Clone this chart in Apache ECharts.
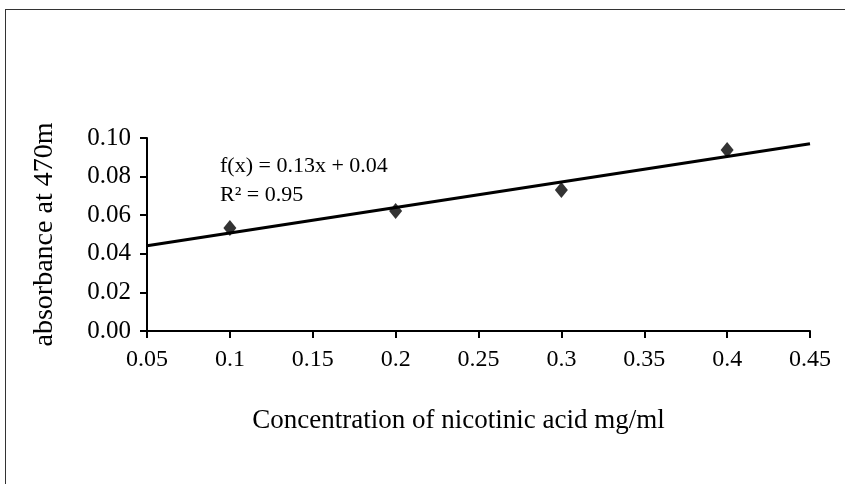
<!DOCTYPE html>
<html><head><meta charset="utf-8">
<script src="https://cdn.jsdelivr.net/npm/echarts@6/dist/echarts.min.js"></script>
<style>html,body{margin:0;padding:0;background:#fff}#c{width:845px;height:484px}</style>
</head><body><div id="c"></div>
<script>
const xValues = [0.1, 0.2, 0.3, 0.4];
const yValues = [0.0534, 0.0622, 0.073, 0.0938];
const xTicks = [0.05, 0.1, 0.15, 0.2, 0.25, 0.3, 0.35, 0.4, 0.45];
const yTicks = [0.00, 0.02, 0.04, 0.06, 0.08, 0.10];
const equationText = 'f(x) = 0.13x + 0.04';
const r2Text = 'R² = 0.95';
const xTitle = 'Concentration of nicotinic acid mg/ml';
const yTitle = 'absorbance at 470m';

// linear regression trendline from data
const n = xValues.length;
const mx = xValues.reduce((a,b)=>a+b,0)/n, my = yValues.reduce((a,b)=>a+b,0)/n;
let sxy=0, sxx=0;
for (let i=0;i<n;i++){ sxy+=(xValues[i]-mx)*(yValues[i]-my); sxx+=(xValues[i]-mx)**2; }
const slope = sxy/sxx, icpt = my - slope*mx;
const xMin = xTicks[0], xMax = xTicks[xTicks.length-1];
const trend = [[xMin, icpt+slope*xMin],[xMax, icpt+slope*xMax]];

const font = 'Liberation Serif';
const chart = echarts.init(document.getElementById('c'));
chart.setOption({
  animation:false,
  backgroundColor:'#fff',
  grid:{left:147, right:35, top:138, bottom:153},
  xAxis:{type:'value', min:xMin, max:xMax, interval:0.05,
    axisLine:{lineStyle:{color:'#000', width:2}},
    axisTick:{show:true, length:7, lineStyle:{color:'#000', width:2}},
    splitLine:{show:false},
    axisLabel:{color:'#000', fontFamily:font, fontSize:24, margin:17,
      formatter:v=>String(+v.toFixed(2))},
    name:xTitle, nameLocation:'middle', nameGap:76,
    nameTextStyle:{color:'#000', fontFamily:font, fontSize:27, padding:[0,40,0,0]}},
  yAxis:{type:'value', min:yTicks[0], max:yTicks[yTicks.length-1], interval:0.02,
    axisLine:{show:true, lineStyle:{color:'#000', width:2}},
    axisTick:{show:true, length:7, lineStyle:{color:'#000', width:2}},
    splitLine:{show:false},
    axisLabel:{color:'#000', fontFamily:font, fontSize:25, margin:16,
      formatter:v=>v.toFixed(2)},
    name:yTitle, nameLocation:'middle', nameGap:88, nameRotate:90,
    nameTextStyle:{color:'#000', fontFamily:font, fontSize:28}},
  series:[
    {type:'line', data:trend, symbol:'none', lineStyle:{color:'#000', width:3}, z:2},
    {type:'scatter', data:xValues.map((x,i)=>[x,yValues[i]]), symbol:'diamond', symbolSize:[13,16],
      itemStyle:{color:'#000'}, z:3}
  ],
  graphic:[
    {type:'line', shape:{x1:5,y1:9.5,x2:845,y2:9.5}, style:{stroke:'#333', lineWidth:1}},
    {type:'line', shape:{x1:5.5,y1:9,x2:5.5,y2:484}, style:{stroke:'#333', lineWidth:1}},
    {type:'text', left:220, top:155, style:{text:equationText, fill:'#000', font:'22px "Liberation Serif"'}},
    {type:'text', left:220, top:184, style:{text:r2Text, fill:'#000', font:'22px "Liberation Serif"'}}
  ]
});
</script></body></html>
